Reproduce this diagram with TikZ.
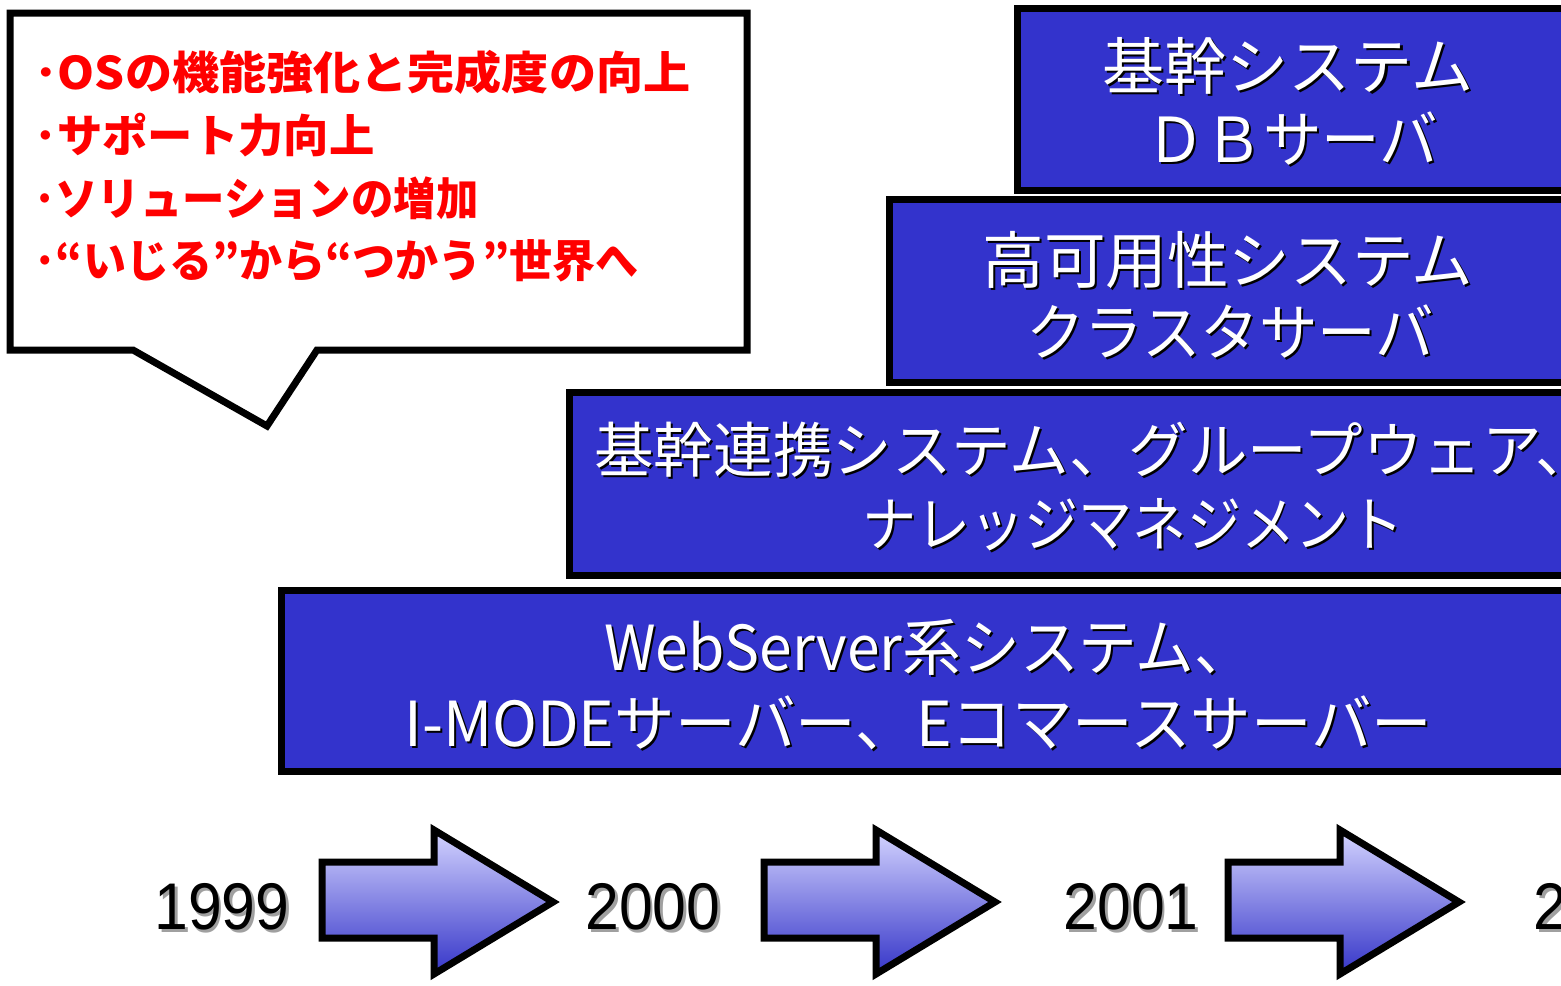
\documentclass[tikz,border=0pt]{standalone}
\usepackage{fontspec}
\usepackage{graphicx}
\setmainfont{Liberation Sans}
\newfontfamily\jp{Noto Sans CJK JP}
\definecolor{boxblue}{HTML}{3333CC}
\definecolor{arrtop}{HTML}{D4D4FF}
\definecolor{arrbot}{HTML}{3535C8}
\definecolor{shgray}{HTML}{A0A0A0}
\newlength\fitw
% scale text horizontally to a target width given in px (1px = 0.5pt)
\newcommand\fitto[2]{\settowidth\fitw{#2}\pgfmathsetmacro\fitsc{#1*0.5/\fitw}\scalebox{\fitsc}[1]{#2}}
% text with a drop shadow
\newcommand\shd[2]{\makebox[0pt][l]{\hspace{1pt}\raisebox{-1pt}{\textcolor{#1}{#2}}}#2}
\newcommand\shdy[2]{\makebox[0pt][l]{\hspace{1.5pt}\raisebox{-1.5pt}{\textcolor{#1}{#2}}}#2}
\begin{document}
\begin{tikzpicture}[x=0.5pt,y=-0.5pt,
  frame/.style={draw=black,line width=3.5pt,line join=miter},
  bluebox/.style={frame,fill=boxblue},
  boxtxt/.style={font=\jp\fontsize{31}{31}\selectfont,text=white,inner sep=0pt,anchor=west},
  redtxt/.style={font=\jp\bfseries\fontsize{22.5}{22.5}\selectfont,text=red,inner sep=0pt,anchor=west},
  yeartxt/.style={font=\fontsize{33}{33}\selectfont,text=black,inner sep=0pt},
  blockarrow/.style={frame,top color=arrtop,bottom color=arrbot}]
\useasboundingbox (0,0) rectangle (1561,985);
\fill[white] (0,0) rectangle (1561,985);
\clip (0,0) rectangle (1561,985);

% callout
\draw[frame,fill=white] (10,13) -- (747,13) -- (747,350) -- (317,350) -- (267,426) -- (133,350) -- (10,350) -- cycle;
\node[redtxt] (r1) at (34,72)  {\fitto{656}{･OSの機能強化と完成度の向上}};
\node[redtxt] (r2) at (34,135) {\fitto{340}{･サポート力向上}};
\node[redtxt] (r3) at (34,198) {\fitto{444}{･ソリューションの増加}};
\node[redtxt] (r4) at (34,261) {\fitto{604}{･“いじる”から“つかう”世界へ}};

% boxes
\draw[bluebox] (1017,8) rectangle (1580,190);
\draw[bluebox] (889,199) rectangle (1580,382);
\draw[bluebox] (569,392) rectangle (1580,575);
\draw[bluebox] (281,590) rectangle (1580,771);

\node[boxtxt] (b1a) at (1102,67)  {\fitto{371}{\shd{black}{基幹システム}}};
\node[boxtxt] (b1b) at (1146,140) {\fitto{292}{\shd{black}{ＤＢサーバ}}};
\node[boxtxt] (b2a) at (982,261)  {\fitto{491}{\shd{black}{高可用性システム}}};
\node[boxtxt] (b2b) at (1026,333) {\fitto{408}{\shd{black}{クラスタサーバ}}};
\node[boxtxt,font=\jp\fontsize{30}{30}\selectfont] (b3a) at (594,451) {\fitto{1001}{\shd{black}{基幹連携システム、グループウェア、}}};
\node[boxtxt,font=\jp\fontsize{30}{30}\selectfont] (b3b) at (862,526) {\fitto{541}{\shd{black}{ナレッジマネジメント}}};
\node[boxtxt] (b4a) at (604,648) {\fitto{649}{\shd{black}{WebServer系システム、}}};
\node[boxtxt] (b4b) at (404,724) {\fitto{1028}{\shd{black}{I-MODEサーバー、Eコマースサーバー}}};

% arrows
\foreach \ax in {322,764,1228}{
  \draw[blockarrow,shift={(\ax,0)}] (0,862) -- (112,862) -- (112,830) -- (231,902) -- (112,974) -- (112,938) -- (0,938) -- cycle;
}

% years
\node[yeartxt] (y1999) at (222,908) {\scalebox{0.92}[1]{\shdy{shgray}{1999}}};
\node[yeartxt] (y2000) at (653,908) {\scalebox{0.92}[1]{\shdy{shgray}{2000}}};
\node[yeartxt] (y2001) at (1131,908) {\scalebox{0.92}[1]{\shdy{shgray}{2001}}};
\node[yeartxt,anchor=west] (y2002) at (1533,908) {\scalebox{0.92}[1]{\shdy{shgray}{2002}}};
\end{tikzpicture}
\end{document}
